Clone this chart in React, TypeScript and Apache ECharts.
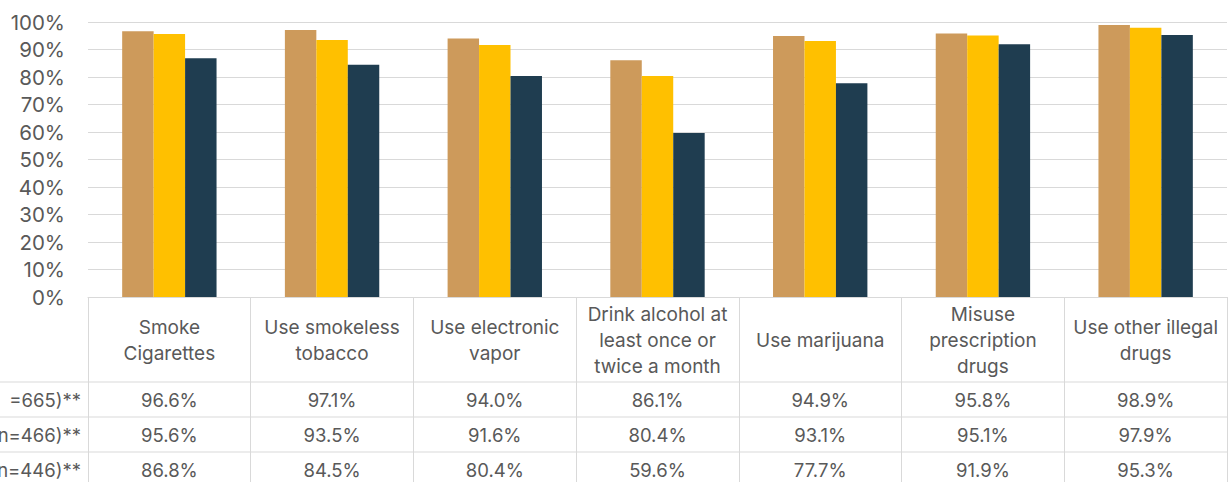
import React, { useEffect, useRef } from "react";
import * as echarts from "echarts";

const categories = [
  "Smoke\nCigarettes",
  "Use smokeless\ntobacco",
  "Use electronic\nvapor",
  "Drink alcohol at\nleast once or\ntwice a month",
  "Use marijuana",
  "Misuse\nprescription\ndrugs",
  "Use other illegal\ndrugs",
];
const seriesNames = ["=665)**", "n=466)**", "n=446)**"];
const series1 = [96.6, 97.1, 94.0, 86.1, 94.9, 95.8, 98.9];
const series2 = [95.6, 93.5, 91.6, 80.4, 93.1, 95.1, 97.9];
const series3 = [86.8, 84.5, 80.4, 59.6, 77.7, 91.9, 95.3];
const yTicks = [0, 10, 20, 30, 40, 50, 60, 70, 80, 90, 100];

const colors = ["#CD9A5B", "#FFC000", "#1F3D50"];
const FONT = "Inter";
const TXT = "#595959";
const LINE = "#D9D9D9";

export default function App() {
  const ref = useRef<HTMLDivElement>(null);
  useEffect(() => {
    if (!ref.current) return;
    const chart = echarts.init(ref.current, undefined, { renderer: "svg" });
    const W = 1228;
    const H = 482;
    const gridTop = 22;
    const gridBottom = 185;
    const gridLeft = 88;
    const gridRight = 1;
    const axisY = H - gridBottom;
    const rowLines = [382, 417, 452];
    const rowCenters = [400, 435, 470];
    const allSeries = [series1, series2, series3];

    const valueAxes = allSeries.map((s, i) => ({
      type: "category" as const,
      position: "bottom" as const,
      data: s.map((v) => v.toFixed(1) + "%"),
      axisLine: { show: false },
      axisTick: { show: false },
      splitLine: { show: false },
      axisLabel: {
        interval: 0,
        margin: rowCenters[i] - axisY,
        verticalAlign: "middle" as const,
        color: TXT,
        fontFamily: FONT,
        fontSize: 18.5,
      },
    }));

    chart.setOption({
      animation: false,
      grid: { left: gridLeft, right: gridRight, top: gridTop, bottom: gridBottom, containLabel: false },
      xAxis: [
        {
          type: "category",
          data: categories,
          axisLine: { show: true, lineStyle: { color: LINE, width: 1 } },
          axisTick: { show: true, interval: 0, length: gridBottom, lineStyle: { color: LINE, width: 1 } },
          axisLabel: {
            interval: 0,
            margin: 43,
            verticalAlign: "middle",
            align: "center",
            color: TXT,
            fontFamily: FONT,
            fontSize: 19,
            lineHeight: 26,
          },
        },
        ...valueAxes,
      ],
      yAxis: {
        type: "value",
        min: 0,
        max: 100,
        interval: 10,
        axisLine: { show: false },
        axisTick: { show: false },
        splitLine: { show: true, lineStyle: { color: LINE, width: 1 } },
        axisLabel: {
          margin: 23,
          color: TXT,
          fontFamily: FONT,
          fontSize: 20.5,
          formatter: (v: number) => (yTicks.includes(v) ? v + "%" : ""),
        },
      },
      series: allSeries.map((s, i) => ({
        name: seriesNames[i],
        type: "bar",
        data: s,
        barGap: "0%",
        barCategoryGap: "42%",
        itemStyle: { color: colors[i] },
      })),
      graphic: [
        ...rowLines.map((y) => ({
          type: "line",
          shape: { x1: 0, y1: y, x2: W - gridRight, y2: y },
          style: { stroke: LINE, lineWidth: 1 },
        })),
        ...seriesNames.map((n, i) => ({
          type: "text",
          x: 81,
          y: rowCenters[i],
          style: {
            text: n,
            textAlign: "right",
            textVerticalAlign: "middle",
            fill: TXT,
            fontFamily: FONT,
            fontSize: 18.5,
          },
        })),
      ],
    });
    return () => chart.dispose();
  }, []);
  return (
    <div
      ref={ref}
      style={{ position: "absolute", left: 0, top: 0, width: 1228, height: 482, background: "#fff" }}
    />
  );
}
